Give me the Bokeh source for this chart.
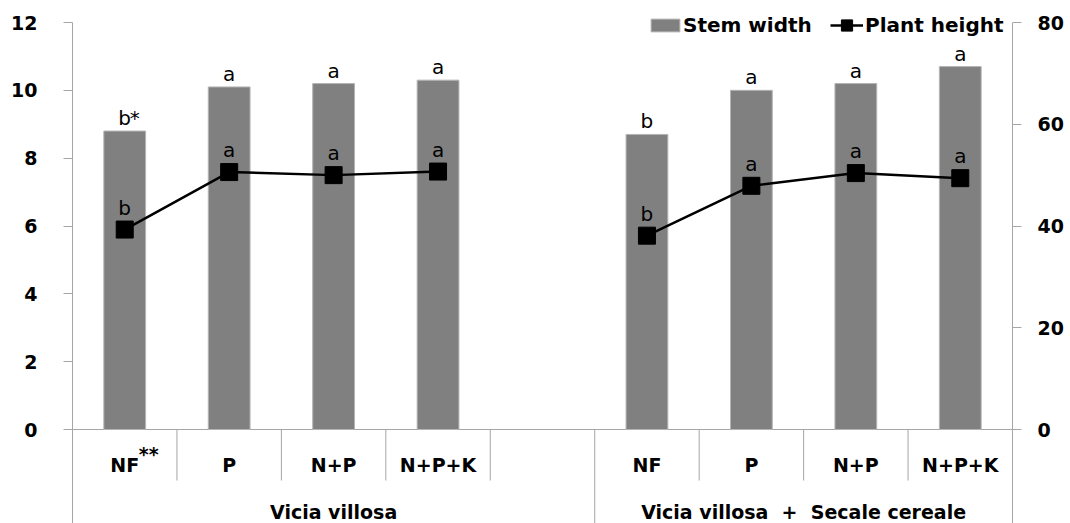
from bokeh.plotting import figure
from bokeh.models import Range1d, LinearAxis, FixedTicker, Legend, LegendItem
from bokeh.core.properties import value
from bokeh.embed import file_html
from bokeh.resources import INLINE

# ---------------- data ----------------
groups = ["Vicia villosa", "Vicia villosa \u00a0+\u00a0 Secale cereale"]
treatments = ["NF", "P", "N+P", "N+P+K"]
treatment_marks = [["**", "", "", ""], ["", "", "", ""]]

stem_width = [[8.8, 10.1, 10.2, 10.3], [8.7, 10.0, 10.2, 10.7]]
plant_height = [[39.3, 50.6, 50.0, 50.7], [38.1, 47.9, 50.4, 49.4]]
stem_letters = [["b", "a", "a", "a"], ["b", "a", "a", "a"]]
stem_marks = [["*", "", "", ""], ["", "", "", ""]]
height_letters = [["b", "a", "a", "a"], ["b", "a", "a", "a"]]

left_ticks = [0, 2, 4, 6, 8, 10, 12]
right_ticks = [0, 20, 40, 60, 80]
left_max, right_max = 12, 80

# ---------------- layout ----------------
W, H = 1070, 523
TOP_PX, ZERO_PX = 22, 429
unit = (ZERO_PX - TOP_PX) / left_max
y_lo = -(H - ZERO_PX) / unit
y_hi = left_max + TOP_PX / unit
ratio = right_max / left_max


def yat(py):
    return (ZERO_PX - py) / unit


slots_per_group = len(treatments) + 1
n_slots = slots_per_group * len(groups) - 1

BAR_COLOR = "#808080"
AXIS_COLOR = "#a6a6a6"
FONT = "DejaVu Sans"

p = figure(width=W, height=H, output_backend="svg", toolbar_location=None,
           x_range=Range1d(0, n_slots), y_range=Range1d(y_lo, y_hi),
           x_axis_location=None, y_axis_location="left",
           min_border_left=72, min_border_right=W - 1012,
           min_border_top=0, min_border_bottom=0)
p.outline_line_color = None
p.grid.grid_line_color = None
p.background_fill_color = "white"
p.border_fill_color = "white"
p.extra_y_ranges = {"right": Range1d(y_lo * ratio, y_hi * ratio)}

# left axis
ax = p.yaxis[0]
ax.ticker = FixedTicker(ticks=left_ticks)
ax.bounds = (y_lo, left_max)
ax.minor_tick_line_color = None
ax.major_tick_in = 0
ax.major_tick_out = 9
ax.axis_line_color = AXIS_COLOR
ax.major_tick_line_color = AXIS_COLOR
ax.major_label_text_font = FONT
ax.major_label_text_font_style = "bold"
ax.major_label_text_font_size = "19px"
ax.major_label_text_color = "black"
ax.major_label_standoff = 26

rax = LinearAxis(y_range_name="right", ticker=FixedTicker(ticks=right_ticks),
                 bounds=(y_lo * ratio, right_max))
rax.minor_tick_line_color = None
rax.major_tick_in = 0
rax.major_tick_out = 9
rax.axis_line_color = AXIS_COLOR
rax.major_tick_line_color = AXIS_COLOR
rax.major_label_text_font = FONT
rax.major_label_text_font_style = "bold"
rax.major_label_text_font_size = "19px"
rax.major_label_text_color = "black"
rax.major_label_standoff = 16
p.add_layout(rax, "right")

# base line and category separators
p.segment(x0=[0], y0=[0], x1=[n_slots], y1=[0], line_color=AXIS_COLOR, line_width=1)
short_x, long_x = [], []
for g in range(len(groups)):
    base = g * slots_per_group
    for i in range(1, len(treatments) + 1):
        if base + i < n_slots:
            short_x.append(base + i)
    if g > 0:
        long_x.append(base)
sep_bottom = yat(480)
p.segment(x0=short_x, y0=[0] * len(short_x), x1=short_x, y1=[sep_bottom] * len(short_x),
          line_color=AXIS_COLOR, line_width=1)
p.segment(x0=long_x, y0=[0] * len(long_x), x1=long_x, y1=[y_lo] * len(long_x),
          line_color=AXIS_COLOR, line_width=1)

bar_r = None
line_rs = []
mark_r = None
for g in range(len(groups)):
    xs = [g * slots_per_group + i + 0.5 for i in range(len(treatments))]
    bar_r = p.vbar(x=xs, top=stem_width[g], width=0.4, bottom=0,
                   fill_color=BAR_COLOR, line_color="#b4b4b4", line_width=1)
    lr = p.line(x=xs, y=plant_height[g], line_color="black", line_width=2.5,
                y_range_name="right")
    line_rs.append(lr)
    mark_r = p.scatter(x=xs, y=plant_height[g], marker="square", size=17,
                       fill_color="black", line_color="black", y_range_name="right")
    # letters above bars
    p.text(x=xs, y=stem_width[g], text=stem_letters[g], y_offset=-13,
           text_align="center", text_baseline="alphabetic",
           text_font=value(FONT), text_font_size="20px", text_color="black")
    p.text(x=xs, y=stem_width[g], text=stem_marks[g], y_offset=-13, x_offset=5,
           text_align="left", text_baseline="alphabetic",
           text_font=value(FONT), text_font_size="20px", text_color="black")
    # letters above markers
    p.text(x=xs, y=plant_height[g], text=height_letters[g], y_offset=-22,
           text_align="center", text_baseline="alphabetic", y_range_name="right",
           text_font=value(FONT), text_font_size="20px", text_color="black")
    # treatment labels
    p.text(x=xs, y=[yat(464)] * len(xs), text=treatments,
           text_align="center", text_baseline="middle",
           text_font=value(FONT), text_font_style="bold", text_font_size="19px",
           text_color="black")
    p.text(x=xs, y=[yat(464)] * len(xs), text=treatment_marks[g], x_offset=14, y_offset=-11,
           text_align="left", text_baseline="middle",
           text_font=value(FONT), text_font_style="bold", text_font_size="19px",
           text_color="black")

# group labels
gx = [(g * slots_per_group + min(n_slots, (g + 1) * slots_per_group)) / 2 for g in range(len(groups))]
p.text(x=gx, y=[yat(511)] * len(gx), text=groups,
       text_align="center", text_baseline="middle",
       text_font=value(FONT), text_font_style="bold", text_font_size="19px",
       text_color="black")

# legends
leg1 = Legend(items=[LegendItem(label="Stem width", renderers=[bar_r])],
              location=(647 - 72, 486), orientation="horizontal",
              glyph_width=36, glyph_height=16, label_standoff=0, label_height=16,
              padding=0, margin=0, spacing=0, border_line_color=None,
              background_fill_alpha=0,
              label_text_font=FONT, label_text_font_style="bold",
              label_text_font_size="20px", label_text_color="black")
leg2 = Legend(items=[LegendItem(label="Plant height", renderers=[line_rs[0], mark_r])],
              location=(830 - 72, 484), orientation="horizontal",
              glyph_width=33, glyph_height=28, label_standoff=2, label_height=16,
              padding=0, margin=0, spacing=0, border_line_color=None,
              background_fill_alpha=0,
              label_text_font=FONT, label_text_font_style="bold",
              label_text_font_size="20px", label_text_color="black")
p.add_layout(leg1, "center")
p.add_layout(leg2, "center")

open("out.html", "w").write(file_html(p, INLINE))
